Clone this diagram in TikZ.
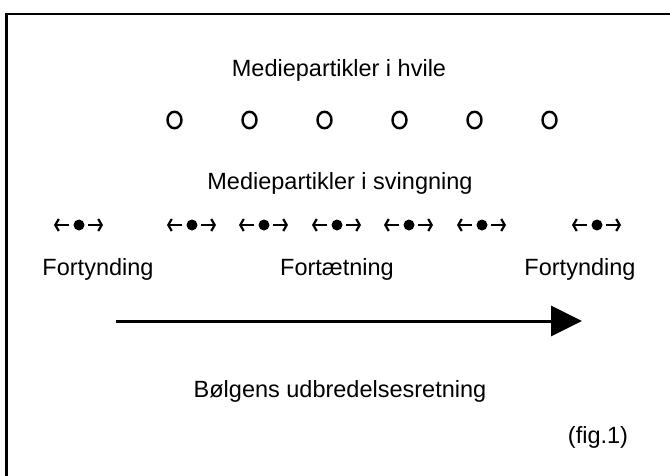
\documentclass[tikz,border=0pt]{standalone}
\usepackage{fontspec}
\setmainfont{Liberation Sans}
\usetikzlibrary{arrows.meta,shapes.geometric}
\begin{document}
\begin{tikzpicture}[x=1pt,y=-1pt,
  lbl/.style={font=\fontsize{23.5}{26}\selectfont, anchor=base, inner sep=0pt},
  restp/.style={draw=black, line width=2.4pt, ellipse, minimum width=14pt, minimum height=16.5pt, inner sep=0pt},
  dotp/.style={circle, fill=black, minimum size=11pt, inner sep=0pt},
  small/.style={line width=2.2pt, -{Straight Barb[length=3.5pt,width=12pt]}},
  big/.style={line width=3pt, -{Triangle[length=31pt,width=30pt]}}]
\useasboundingbox (0,0) rectangle (670,475);
\fill[white] (0,0) rectangle (670,475);
% frame (only top and left edges visible)
\coordinate (fbl) at (6.5,476);
\coordinate (ftl) at (6.5,14);
\coordinate (ftr) at (671,14);
\draw[line width=2.5pt] (fbl) -- (ftl) -- (ftr);
% titles
\node[lbl] (t1) at (339,76.5) {Mediepartikler i hvile};
\node[lbl] (t2) at (340,189) {Mediepartikler i svingning};
% particles at rest
\foreach \i/\x in {1/174.5,2/249.5,3/324.5,4/399.5,5/474.5,6/549.5}
  \node[restp] (r\i) at (\x,120) {};
% oscillating particles
\foreach \i/\x in {1/79,2/192,3/264,4/337,5/409,6/482,7/597}{
  \node[dotp] (d\i) at (\x,225) {};
  \coordinate (dl\i) at (\x-10,225);
  \coordinate (dle\i) at (\x-25,225);
  \coordinate (dr\i) at (\x+9,225);
  \coordinate (dre\i) at (\x+24,225);
  \draw[small] (dl\i) -- (dle\i);
  \draw[small] (dr\i) -- (dre\i);
}
\node[lbl] (f1) at (98,275) {Fortynding};
\node[lbl] (f2) at (337,275) {Fortætning};
\node[lbl] (f3) at (580,275) {Fortynding};
% propagation arrow
\coordinate (a0) at (116,321);
\coordinate (a1) at (582,321);
\draw[big] (a0) -- (a1);
\node[lbl] (t3) at (340,397) {Bølgens udbredelsesretning};
\node[lbl] (fig) at (598,443) {(fig.1)};
\end{tikzpicture}
\end{document}
